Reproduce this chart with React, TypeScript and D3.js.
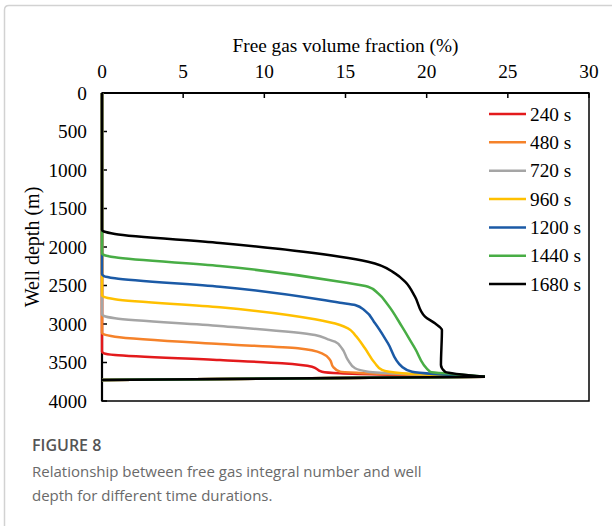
import React from "react";
import * as d3 from "d3";

type P = [number, number]; // [free gas %, depth m]

const seriesNames = ["240 s", "480 s", "720 s", "960 s", "1200 s", "1440 s", "1680 s"];
const seriesColors = ["#E31A1C", "#F5822A", "#A5A5A5", "#FFC000", "#1B5AA6", "#48AD45", "#000000"];

const s240: P[] = [
  [0, 0], [0, 3360], [0.12, 3381], [0.8, 3403], [7.27, 3468], [11.09, 3510], [12.94, 3555],
  [13.55, 3619], [14.66, 3640], [23.59, 3684], [0, 3727],
];
const s480: P[] = [
  [0, 0], [0, 3113], [0.12, 3136], [0.8, 3165], [7.27, 3260], [12.07, 3316], [13.55, 3381],
  [14.05, 3468], [14.23, 3555], [14.66, 3619], [15.89, 3636], [23.59, 3684], [0, 3727],
];
const s720: P[] = [
  [0, 0], [0, 2874], [0.12, 2896], [0.8, 2926], [7.27, 3026], [13.12, 3143], [13.92, 3199],
  [14.35, 3230], [14.78, 3316], [15.15, 3468], [15.59, 3575], [16.39, 3619], [23.59, 3684], [0, 3727],
];
const s960: P[] = [
  [0, 0], [0, 2627], [0.12, 2649], [0.8, 2679], [7.27, 2783], [13.12, 2939], [14.66, 3013],
  [15.15, 3056], [15.59, 3143], [16.2, 3316], [16.82, 3510], [17.25, 3597], [18.48, 3640],
  [23.59, 3684], [0, 3727],
];
const s1200: P[] = [
  [0, 0], [0, 2351], [0.12, 2377], [0.8, 2406], [7.27, 2516], [14.66, 2723], [15.59, 2753],
  [16.2, 2827], [16.82, 2991], [17.62, 3251], [18.48, 3555], [19.1, 3619], [20.51, 3649],
  [23.59, 3684], [0, 3727],
];
const s1440: P[] = [
  [0, 0], [0, 2082], [0.12, 2104], [0.8, 2134], [7.27, 2247], [14.66, 2451], [16.39, 2516],
  [17.0, 2601], [17.62, 2753], [18.48, 3035], [19.28, 3316], [20.21, 3619], [21.56, 3649],
  [23.59, 3684], [0, 3727],
];
const s1680: P[] = [
  [0, 0], [0, 1779], [0.12, 1799], [0.8, 1831], [7.27, 1948], [14.66, 2126], [16.39, 2191],
  [18.05, 2342], [18.67, 2451], [19.28, 2645], [19.9, 2905], [20.51, 2991], [20.94, 3078],
  [20.88, 3533], [21.13, 3619], [23.59, 3684], [0, 3727],
];
const seriesData: P[][] = [s240, s480, s720, s960, s1200, s1440, s1680];

const xTicks = [0, 5, 10, 15, 20, 25, 30];
const yTicks = [0, 500, 1000, 1500, 2000, 2500, 3000, 3500, 4000];

const xTitle = "Free gas volume fraction (%)";
const yTitle = "Well depth (m)";
const captionHead = "FIGURE 8";
const captionLines = [
  "Relationship between free gas integral number and well",
  "depth for different time durations.",
];

export default function App() {
  const W = 612, H = 526;
  const x = d3.scaleLinear().domain([0, 30]).range([102, 589]);
  const y = d3.scaleLinear().domain([0, 4000]).range([93, 401]);
  const serif = "'Liberation Serif', 'Times New Roman', serif";
  const sans = "'Open Sans', 'Noto Sans', sans-serif";
  const fs = 19.3;

  const mono = d3.line<P>().x(d => x(d[0])).y(d => y(d[1])).curve(d3.curveMonotoneY);
  const lin = d3.line<P>().x(d => x(d[0])).y(d => y(d[1]));

  const legendY = (i: number) => 114 + i * 28.35;

  return (
    <svg width={W} height={H} style={{ position: "absolute", left: 0, top: 0, background: "#fff" }}>
      <path d="M4.5,526 L4.5,10 Q4.5,5.5 9,5.5 L612,5.5" fill="none" stroke="#d2d2d2" strokeWidth={1.5} />

      {/* plot frame */}
      <rect x={x(0)} y={y(0)} width={x(30) - x(0)} height={y(4000) - y(0)} fill="none" stroke="#000" strokeWidth={1.5} />
      <line x1={x(0)} x2={x(30)} y1={y(0)} y2={y(0)} stroke="#000" strokeWidth={2.2} />
      <line x1={x(0)} x2={x(0)} y1={y(0)} y2={y(4000)} stroke="#000" strokeWidth={2.2} />

      {xTicks.map(t => (
        <g key={"xt" + t}>
          <line x1={x(t)} x2={x(t)} y1={y(0)} y2={y(0) + 5} stroke="#000" strokeWidth={1.5} />
          <text x={x(t)} y={77.5} textAnchor="middle" fontFamily={serif} fontSize={fs} fill="#000">{t}</text>
        </g>
      ))}
      {yTicks.map(t => (
        <g key={"yt" + t}>
          <line x1={x(0)} x2={x(0) + 5} y1={y(t)} y2={y(t)} stroke="#000" strokeWidth={1.5} />
          <text x={87} y={y(t) + 6.5} textAnchor="end" fontFamily={serif} fontSize={fs} fill="#000">{t}</text>
        </g>
      ))}

      <text x={(x(0) + x(30)) / 2} y={51.5} textAnchor="middle" fontFamily={serif} fontSize={fs} fill="#000">{xTitle}</text>
      <text transform={`translate(39,247) rotate(-90)`} textAnchor="middle" fontFamily={serif} fontSize={20} fill="#000">{yTitle}</text>

      {seriesData.map((pts, i) => {
        const main = pts.slice(0, pts.length - 1);
        const tail = pts.slice(pts.length - 2);
        return (
          <g key={"s" + i}>
            <path d={mono(main) || ""} fill="none" stroke={seriesColors[i]} strokeWidth={2.5} strokeLinejoin="round" />
            <path d={lin(tail) || ""} fill="none" stroke={seriesColors[i]} strokeWidth={2.5} />
          </g>
        );
      })}

      {seriesNames.map((n, i) => (
        <g key={"lg" + i}>
          <line x1={489} x2={526} y1={legendY(i)} y2={legendY(i)} stroke={seriesColors[i]} strokeWidth={2.5} />
          <text x={530} y={legendY(i) + 6.5} fontFamily={serif} fontSize={fs} fill="#000">{n}</text>
        </g>
      ))}

      <text x={32} y={451} fontFamily={sans} fontSize={16} fontWeight={600} fill="#555">{captionHead}</text>
      {captionLines.map((l, i) => (
        <text key={"c" + i} x={32} y={477 + i * 24} fontFamily={sans} fontSize={15} fill="#6a6a6a">{l}</text>
      ))}
    </svg>
  );
}
